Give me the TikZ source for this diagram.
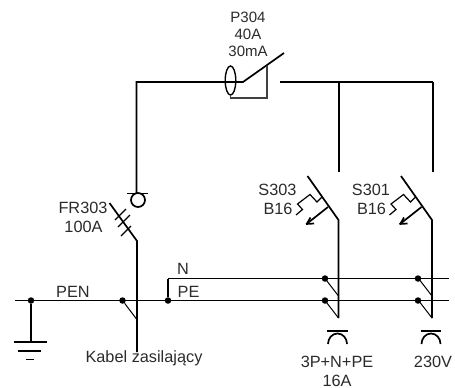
\documentclass[tikz,border=0pt]{standalone}
\usepackage{fontspec}
\setmainfont{Liberation Sans}
\definecolor{txt}{HTML}{2B2B2B}
\tikzset{
  wire/.style={line width=1.7pt,black,line cap=butt},
  thin wire/.style={line width=1pt,black},
  grey wire/.style={line width=1.6pt,black!75},
  junction/.style={circle,fill=black,inner sep=0pt,minimum size=6.5pt},
  lbl/.style={inner sep=0pt,anchor=base,font=\fontsize{16.3}{16}\selectfont,text=txt},
  small lbl/.style={lbl,font=\fontsize{15}{15}\selectfont},
}
\begin{document}
\begin{tikzpicture}[x=1pt,y=-1pt]
\useasboundingbox (0,0) rectangle (455,388);
% junctions
\node[junction] (j0) at (31,300.5) {};
\node[junction] (j1) at (122.5,300.5) {};
\node[junction] (j2) at (168,300.5) {};
\node[junction] (n1) at (325,278.5) {};
\node[junction] (p1) at (325,300.5) {};
\node[junction] (n2) at (418,278.5) {};
\node[junction] (p2) at (418,300.5) {};
% key coordinates
\coordinate (penL) at (15,300.5);
\coordinate (busR) at (449,300.5);
\coordinate (nR) at (449,278.5);
\coordinate (nC) at (168,278.5);
\coordinate (c1) at (136.5,82);
\coordinate (sw) at (243,82);
\coordinate (swT) at (284,53);
\coordinate (r0) at (280,82);
\coordinate (rE) at (433,82);
\coordinate (r1) at (339,82);
\coordinate (t1) at (339,172);
\coordinate (t2) at (433,172);
% buses
\draw[wire] (penL) -- (busR);
\draw[wire] (nC) -- (nR);
\draw[wire] (nC) -- (j2);
% earth
\coordinate (g) at (31,342);
\draw[wire] (j0) -- (g);
\draw[wire] (14,342) -- (47,342);
\draw[wire] (18,351) -- (41,351);
\draw[wire] (26,359.5) -- (34,359.5);
% supply line and P304
\draw[wire] (136.5,193) -- (c1) -- (sw) -- (swT);
\draw[wire] (r0) -- (rE);
\draw[wire] (r1) -- (t1);
\draw[wire] (rE) -- (t2);
\draw[line width=1.4pt] (230.5,80.5) ellipse [x radius=5.3, y radius=14.5];
\draw[grey wire] (230.5,95) -- (230.5,98) -- (267,98) -- (267,65.5);
% FR303
\draw[wire] (127,193.5) -- (148,193.5);
\draw[wire] (138,200) circle [radius=7];
\draw[wire] (109.5,203) -- (137,241) -- (137,352);
\draw[line width=1.2pt] (115,220) -- (126,209);
\draw[line width=1.2pt] (118,227) -- (130,215);
\draw[line width=1.2pt] (121,236) -- (131,226);
\draw[thin wire] (j1) -- (136.5,319);
% branches
\foreach \d in {0,93.5}{
  \begin{scope}[xshift=\d pt]
    \draw[wire] (307.5,176) -- (338.5,220) -- (338.5,318);
    \draw[line width=1.2pt] (322,197) -- (317,202) -- (310,194.5) -- (297.5,204) -- (302.5,209.5) -- (296,215);
    \draw[wire] (328,207) -- (306.5,224);
    \draw[wire] (306,224) -- (314,223.5);
    \draw[wire] (306.5,224.5) -- (310.5,217.5);
    \draw[thin wire] (325,278.5) -- (338.5,296);
    \draw[thin wire] (325,300.5) -- (338.5,318);
    \draw[wire] (327,331) -- (347.5,331);
    \draw[wire] (328,344) arc[start angle=180,end angle=360,x radius=9.5,y radius=10.5];
  \end{scope}
}
% labels
\node[small lbl] (l1) at (248,22.7) {P304};
\node[small lbl] (l2) at (248,39.3) {40A};
\node[small lbl] (l3) at (248,56.7) {30mA};
\node[lbl] (l4) at (83,213) {FR303};
\node[lbl] (l5) at (83.5,232) {100A};
\node[lbl] (l6) at (277.5,195) {S303};
\node[lbl] (l7) at (278,214) {B16};
\node[lbl] (l8) at (371,195) {S301};
\node[lbl] (l9) at (371.5,214) {B16};
\node[lbl] (l10) at (73,297) {PEN};
\node[lbl] (l11) at (183,274) {N};
\node[lbl] (l12) at (188.5,297) {PE};
\node[lbl] (l13) at (144,362) {Kabel zasilający};
\node[lbl] (l14) at (337,367) {3P+N+PE};
\node[lbl] (l15) at (337,386) {16A};
\node[lbl] (l16) at (433,367) {230V};
\end{tikzpicture}
\end{document}
